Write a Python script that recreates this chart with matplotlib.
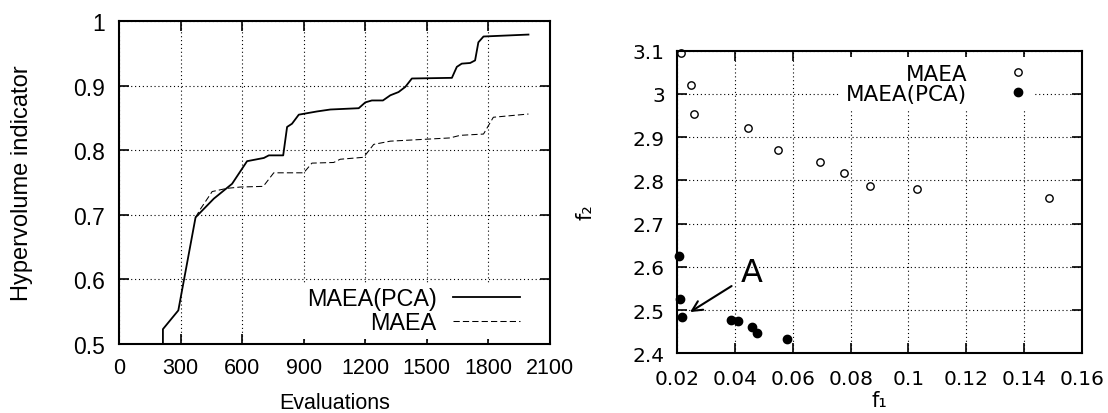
import numpy as np
import matplotlib
matplotlib.use("Agg")
import matplotlib.pyplot as plt

# --- left panel: hypervolume vs evaluations
pca_evals = [214, 214, 289, 373, 462, 551, 624, 706, 730, 800, 819, 843, 876, 965,
             1030, 1168, 1200, 1232, 1286, 1322, 1362, 1395, 1427, 1622, 1646, 1670,
             1711, 1735, 1751, 1776, 1995]
pca_hv = [0.500, 0.523, 0.552, 0.696, 0.725, 0.748, 0.783, 0.788, 0.792, 0.792, 0.836,
          0.841, 0.855, 0.860, 0.863, 0.865, 0.874, 0.877, 0.877, 0.885, 0.890, 0.898,
          0.911, 0.912, 0.929, 0.934, 0.935, 0.939, 0.967, 0.976, 0.979]

maea_evals = [373, 397, 454, 527, 592, 703, 754, 900, 940, 1046, 1078, 1192, 1241,
              1322, 1613, 1662, 1776, 1824, 1995]
maea_hv = [0.696, 0.709, 0.736, 0.741, 0.743, 0.744, 0.765, 0.765, 0.780, 0.781, 0.786,
           0.789, 0.809, 0.814, 0.819, 0.823, 0.825, 0.851, 0.856]

# --- right panel: final fronts
maea_f1 = [0.0212, 0.0248, 0.0258, 0.0446, 0.0547, 0.0695, 0.0777, 0.0866, 0.1030, 0.1485]
maea_f2 = [3.094, 3.021, 2.953, 2.921, 2.870, 2.842, 2.816, 2.787, 2.779, 2.759]
pca_f1 = [0.0206, 0.0211, 0.0216, 0.0386, 0.0409, 0.0460, 0.0477, 0.0578]
pca_f2 = [2.624, 2.526, 2.483, 2.476, 2.474, 2.460, 2.447, 2.432]

fig = plt.figure(figsize=(11.08, 4.14), dpi=100)

# ===========================================================
# Left plot
# ===========================================================
lf = 'Liberation Sans'
ax1 = fig.add_axes([119 / 1108, 1 - 345 / 414, 431 / 1108, 323 / 414])
ax1.plot(pca_evals, pca_hv, color='black', lw=1.3, label='MAEA(PCA)')
ax1.plot(maea_evals, maea_hv, color='black', lw=0.75, ls=(0, (6, 3)), label='MAEA')
ax1.set_xlim(0, 2100)
ax1.set_ylim(0.5, 1.0)
ax1.set_xticks(np.arange(0, 2101, 300))
ax1.set_yticks([0.5, 0.6, 0.7, 0.8, 0.9, 1.0])
ax1.set_yticklabels(['0.5', '0.6', '0.7', '0.8', '0.9', '1'])
ax1.grid(True, color='black', ls=(0, (1, 2.5)), lw=0.8)
ax1.set_axisbelow(True)
ax1.tick_params(direction='in', top=True, right=True, length=7, width=1.2)
ax1.tick_params(axis='x', labelsize=15.5, pad=9)
ax1.tick_params(axis='y', labelsize=16.5, pad=10)
for t in ax1.get_xticklabels() + ax1.get_yticklabels():
    t.set_family(lf)
for s in ax1.spines.values():
    s.set_linewidth(1.5)
ax1.set_xlabel('Evaluations', fontsize=15.5, family=lf, va='center')
ax1.xaxis.set_label_coords(0.5, -0.1796)
ax1.set_ylabel('Hypervolume indicator', fontsize=17, family=lf, va='center')
ax1.yaxis.set_label_coords(-0.2245, 0.5)
leg1 = ax1.legend(loc='lower right', bbox_to_anchor=(0.942, 0.0154),
                  markerfirst=False, frameon=True, fancybox=False,
                  edgecolor='none', facecolor='white', framealpha=1,
                  handlelength=2.9, labelspacing=0.05, borderaxespad=0,
                  borderpad=0.2, handletextpad=0.69,
                  prop={'family': lf, 'size': 16.8})
for t in leg1.get_texts():
    t.set_ha('right')

# ===========================================================
# Right plot
# ===========================================================
ax2 = fig.add_axes([677.3 / 1108, 1 - 354.3 / 414, 404.5 / 1108, 302.6 / 414])
ax2.plot(maea_f1, maea_f2, ls='none', marker='o', ms=5.3, mfc='white', mec='black',
         mew=1.0, label='MAEA', clip_on=False)
ax2.plot(pca_f1, pca_f2, ls='none', marker='o', ms=6, mfc='black', mec='black',
         label='MAEA(PCA)', clip_on=False)
ax2.set_xlim(0.02, 0.16)
ax2.set_ylim(2.4, 3.1)
ax2.set_xticks(np.arange(0.02, 0.161, 0.02))
ax2.set_xticklabels(['0.02', '0.04', '0.06', '0.08', '0.1', '0.12', '0.14', '0.16'])
ax2.set_yticks(np.arange(2.4, 3.11, 0.1))
ax2.set_yticklabels(['2.4', '2.5', '2.6', '2.7', '2.8', '2.9', '3', '3.1'])
ax2.grid(True, color='black', ls=(0, (1, 2.5)), lw=0.8)
ax2.set_axisbelow(True)
ax2.tick_params(direction='in', top=True, right=True, length=7, width=1.2,
                labelsize=14.5)
ax2.tick_params(axis='x', pad=11)
ax2.tick_params(axis='y', pad=9)
for s in ax2.spines.values():
    s.set_linewidth(1.5)
ax2.set_xlabel('f₁', fontsize=15, va='center')
ax2.xaxis.set_label_coords(0.5, -0.154)
ax2.set_ylabel('f₂', fontsize=15, va='center')
ax2.yaxis.set_label_coords(-0.2266, 0.47)
leg2 = ax2.legend(loc='upper right', bbox_to_anchor=(0.885, 0.979),
                  markerfirst=False, frameon=True, fancybox=False,
                  edgecolor='none', facecolor='white', framealpha=1,
                  handlelength=1.0, labelspacing=0.0, borderaxespad=0,
                  borderpad=0.3, handletextpad=1.85, fontsize=15.5)
for t in leg2.get_texts():
    t.set_ha('right')

ax2.annotate('', xy=(0.0236, 2.492), xytext=(0.0396, 2.559),
             arrowprops=dict(arrowstyle='->', color='black', lw=1.5,
                             mutation_scale=18))
ax2.text(0.0458, 2.587, 'A', fontsize=23, ha='center', va='center')

plt.savefig('out.png', dpi=100)
